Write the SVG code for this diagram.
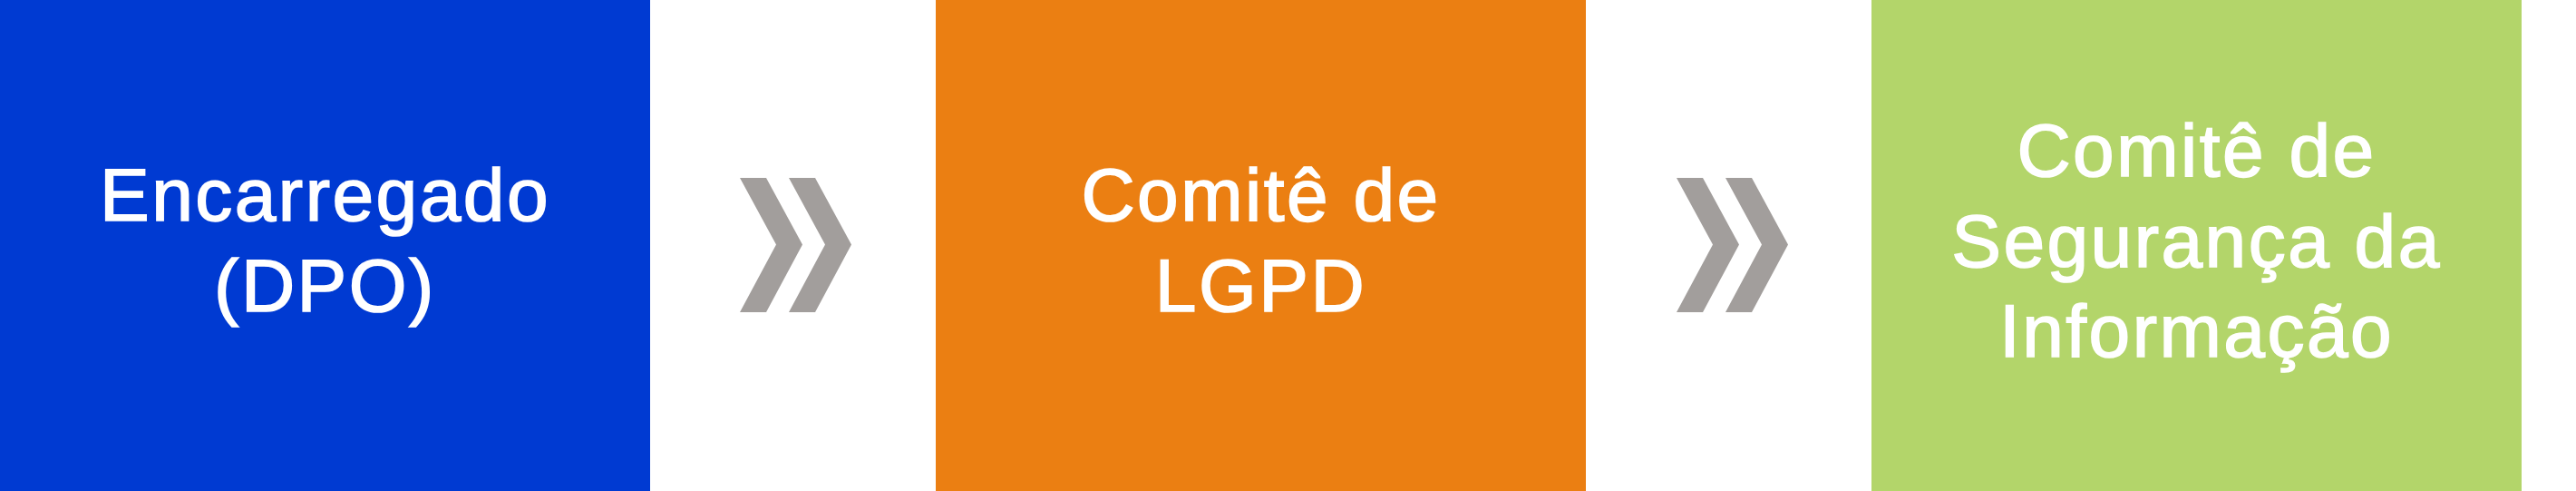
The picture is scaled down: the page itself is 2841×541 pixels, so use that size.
<svg xmlns="http://www.w3.org/2000/svg" width="2841" height="541" viewBox="0 0 2841 541">
<style>
.lbl{font-family:"Liberation Sans",Arial,sans-serif;font-size:82px;fill:#ffffff;stroke:#ffffff;stroke-width:1.6px;text-anchor:middle;letter-spacing:2.5px}
.chev{fill:#a29e9c}
</style>
<defs>
<polygon id="chev" points="0,0 29,0 69,73.5 29,148 0,148 40,73.5"/>
</defs>
<rect x="0" y="0" width="2841" height="541" fill="#ffffff"/>
<g id="node-dpo">
<rect x="0" y="0" width="717" height="541" fill="#003ad2"/>
<text class="lbl" x="358.5" y="242.5">Encarregado</text>
<text class="lbl" x="358.5" y="342.5">(DPO)</text>
</g>
<g id="node-lgpd">
<rect x="1032" y="0" width="717" height="541" fill="#eb7f12"/>
<text class="lbl" x="1390.5" y="242.5">Comitê de</text>
<text class="lbl" x="1390.5" y="342.5">LGPD</text>
</g>
<g id="node-si">
<rect x="2064" y="0" width="717" height="541" fill="#b3d56a"/>
<text class="lbl" x="2422.5" y="194">Comitê de</text>
<text class="lbl" x="2422.5" y="294">Segurança da</text>
<text class="lbl" x="2422.5" y="393">Informação</text>
</g>
<g id="connectors" class="chev">
<use href="#chev" x="816" y="196"/>
<use href="#chev" x="870" y="196"/>
<use href="#chev" x="1849" y="196"/>
<use href="#chev" x="1903" y="196"/>
</g>
</svg>
